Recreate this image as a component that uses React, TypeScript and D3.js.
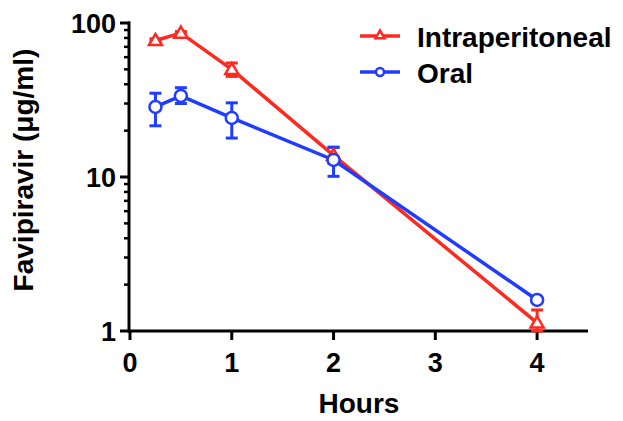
import React from "react";
import * as d3 from "d3";

const times = [0.25, 0.5, 1, 2, 4];
const ipMean = [77, 86, 50, 13.8, 1.13];
const ipLow = [76, 85, 45, 12.3, 1.0];
const ipHigh = [79, 88, 55, 15.6, 1.37];
const oralMean = [28.5, 33.6, 24.2, 12.9, 1.59];
const oralLow = [21.5, 30, 17.9, 10.1, 1.55];
const oralHigh = [35, 38, 30.3, 15.6, 1.64];
const xTicks = [0, 1, 2, 3, 4];
const yTicks = [1, 10, 100];
const seriesNames = ["Intraperitoneal", "Oral"];

const W = 623, H = 421;
const x = d3.scaleLinear().domain([0, 4.5]).range([130, 588]);
const y = d3.scaleLog().domain([1, 100]).range([331, 23]);

const RED = "#ff2a1f";
const BLUE = "#1f3cff";
const FONT = "Arial, 'Liberation Sans', sans-serif";

function ErrBars({ low, high, color }: { low: number[]; high: number[]; color: string }) {
  return (
    <g stroke={color} strokeWidth={3}>
      {times.map((t, i) => (
        <g key={i}>
          <line x1={x(t)} x2={x(t)} y1={y(low[i])} y2={y(high[i])} />
          <line x1={x(t) - 6} x2={x(t) + 6} y1={y(low[i])} y2={y(low[i])} />
          <line x1={x(t) - 6} x2={x(t) + 6} y1={y(high[i])} y2={y(high[i])} />
        </g>
      ))}
    </g>
  );
}

function Tri({ cx, cy, color, s = 6.5 }: { cx: number; cy: number; color: string; s?: number }) {
  return (
    <path
      d={`M${cx},${cy - s}L${cx + s},${cy + s * 0.7}L${cx - s},${cy + s * 0.7}Z`}
      fill="white"
      stroke={color}
      strokeWidth={2.5}
    />
  );
}

export default function App() {
  const line = d3
    .line<number>()
    .x((_, i) => x(times[i]))
    .y((v) => y(v));
  const minor: number[] = [];
  [1, 10].forEach((dec) => {
    for (let k = 2; k <= 9; k++) minor.push(dec * k);
  });
  return (
    <svg width={W} height={H} style={{ position: "absolute", left: 0, top: 0 }} fontFamily={FONT}>
      <rect width={W} height={H} fill="white" />
      {/* axes */}
      <g stroke="black" strokeWidth={3}>
        <line x1={x(0) - 1} x2={x(0) - 1} y1={y(100) - 1.5} y2={y(1) + 1.5} />
        <line x1={x(0) - 2.5} x2={x(4.5)} y1={y(1)} y2={y(1)} />
        {yTicks.map((t) => (
          <line key={t} x1={x(0) - 10} x2={x(0)} y1={y(t)} y2={y(t)} />
        ))}
        {minor.map((t) => (
          <line key={t} x1={x(0) - 6} x2={x(0)} y1={y(t)} y2={y(t)} strokeWidth={2.5} />
        ))}
        {xTicks.map((t) => (
          <line key={t} x1={x(t)} x2={x(t)} y1={y(1)} y2={y(1) + 9} />
        ))}
      </g>
      <g fontWeight="bold" fontSize={27} fill="black">
        {yTicks.map((t) => (
          <text key={t} x={x(0) - 14} y={y(t)} dy="0.36em" textAnchor="end">
            {t}
          </text>
        ))}
        {xTicks.map((t) => (
          <text key={t} x={x(t)} y={372} textAnchor="middle">
            {t}
          </text>
        ))}
      </g>
      <text x={359} y={413} textAnchor="middle" fontWeight="bold" fontSize={28}>
        Hours
      </text>
      <text
        transform={`translate(33,170) rotate(-90)`}
        textAnchor="middle"
        fontWeight="bold"
        fontSize={28}
      >
        Favipiravir (μg/ml)
      </text>
      {/* series */}
      <path d={line(ipMean) || ""} fill="none" stroke={RED} strokeWidth={3.5} />
      <path d={line(oralMean) || ""} fill="none" stroke={BLUE} strokeWidth={3.5} />
      <ErrBars low={ipLow} high={ipHigh} color={RED} />
      <ErrBars low={oralLow} high={oralHigh} color={BLUE} />
      {times.map((t, i) => (
        <Tri key={i} cx={x(t)} cy={y(ipMean[i])} color={RED} />
      ))}
      {times.map((t, i) => (
        <circle key={i} cx={x(t)} cy={y(oralMean[i])} r={6} fill="white" stroke={BLUE} strokeWidth={2.5} />
      ))}
      {/* legend */}
      <g>
        <line x1={360} x2={400} y1={36} y2={36} stroke={RED} strokeWidth={3.5} />
        <Tri cx={380} cy={35} color={RED} s={4.5} />
        <text x={417} y={47} fontWeight="bold" fontSize={28}>
          {seriesNames[0]}
        </text>
        <line x1={360} x2={400} y1={72} y2={72} stroke={BLUE} strokeWidth={3.5} />
        <circle cx={380} cy={72} r={4} fill="white" stroke={BLUE} strokeWidth={2.5} />
        <text x={417} y={83} fontWeight="bold" fontSize={28}>
          {seriesNames[1]}
        </text>
      </g>
    </svg>
  );
}
